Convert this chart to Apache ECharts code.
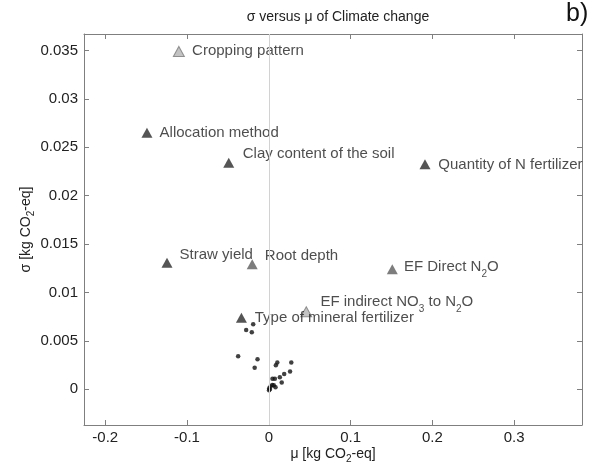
<!DOCTYPE html>
<html>
<head>
<meta charset="utf-8">
<script src="https://cdn.jsdelivr.net/npm/echarts@6/dist/echarts.min.js"></script>
<style>
  html, body { margin: 0; padding: 0; background: #fff; }
  #chart { width: 605px; height: 472px; }
</style>
</head>
<body>
<div id="chart"></div>
<script>
// ---- data ----
const factorNames = [
  'Cropping pattern',
  'Allocation method',
  'Clay content of the soil',
  'Quantity of N fertilizer',
  'Straw yield',
  'Root depth',
  'EF Direct N{s|2}O',
  'EF indirect NO{s|3} to N{s|2}O',
  'Type of mineral fertilizer'
];
const factorMu    = [-0.110, -0.149, -0.049, 0.191, -0.1245, -0.0203, 0.151, 0.0458, -0.0335];
const factorSigma = [0.0349, 0.0265, 0.0234, 0.02324, 0.01306, 0.0129, 0.0124, 0.0080, 0.00739];
const factorGroup = [2, 0, 0, 0, 0, 1, 1, 2, 0];

const dotMu = [-0.0191, -0.0277, -0.0208, -0.0375, -0.0138, -0.0173, 0.0104, 0.0086, 0.0275,
               0.0260, 0.0188, 0.0135, 0.0158, 0.0045, 0.0074, 0.0012, 0.0021, 0.0042,
               0.0061, 0.0005, 0.0082, 0.0003];
const dotSigma = [0.00671, 0.00612, 0.00588, 0.00340, 0.00309, 0.00222, 0.00276, 0.00248, 0.00276,
                  0.00183, 0.00156, 0.00124, 0.00068, 0.00109, 0.00109, 0.0000, 0.00027, 0.00044,
                  0.00041, 0.0001, 0.0002, -0.0001];

const xTickStep = 0.1;
const yTickStep = 0.005;

// ---- styles / layout ----
const groupStyles = [
  { color: '#2a2a2a', borderColor: '#2a2a2a', borderWidth: 0 },
  { color: '#5c5c5c', borderColor: '#5c5c5c', borderWidth: 0 },
  { color: '#b4b4b4', borderColor: '#7a7a7a', borderWidth: 1 }
];
const labelOffsets = [
  [7.2, -0.5], [7.1, 0], [8.5, -9], [7.8, 1], [7.1, -7.7],
  [7.1, -8.3], [6.1, -2.3], [8.1, -10], [7.8, 0.6]
];
const FONT = '"Liberation Sans", Arial, Helvetica, sans-serif';
const TXT = '#222';
const AX = '#7f7f7f';
const X_MIN = -0.226, X_MAX = 0.383;
const Y_MIN = -0.0037, Y_MAX = 0.0367;

const chart = echarts.init(document.getElementById('chart'));

const factorData = factorNames.map((n, i) => ({
  name: n,
  value: [factorMu[i], factorSigma[i]],
  itemStyle: groupStyles[factorGroup[i]],
  label: { offset: labelOffsets[i] }
}));
const dotData = dotMu.map((m, i) => [m, dotSigma[i]]);

function baseAxis(extra) {
  return Object.assign({
    type: 'value',
    splitLine: { show: false },
    axisLine: { show: true, onZero: false, lineStyle: { color: AX, width: 1 } },
    axisTick: { show: true, inside: true, length: 5, lineStyle: { color: AX, width: 1 } }
  }, extra);
}

const subRich = {
  s: { fontSize: 10, lineHeight: 10, padding: [11, 0, 0, 0], fontFamily: FONT, color: TXT }
};

const option = {
  animation: false,
  backgroundColor: '#fff',
  textStyle: { fontFamily: FONT },
  title: {
    text: 'σ versus μ of Climate change',
    left: 333,
    textAlign: 'center',
    top: 5,
    textStyle: { fontFamily: FONT, fontSize: 14, fontWeight: 'normal', color: TXT }
  },
  graphic: [{
    type: 'text',
    left: 566,
    top: 2,
    style: { text: 'b)', fontFamily: FONT, fontSize: 25, fill: '#111' }
  }],
  grid: { left: 84, right: 23, top: 34, bottom: 47, containLabel: false },
  xAxis: [
    baseAxis({
      position: 'bottom', min: X_MIN, max: X_MAX,
      minInterval: xTickStep, maxInterval: xTickStep,
      axisLabel: { showMinLabel: false, showMaxLabel: false, fontSize: 15, color: TXT, margin: 5, fontFamily: FONT },
      name: 'μ [kg CO{s|2}-eq]',
      nameLocation: 'middle',
      nameGap: 21,
      nameMoveOverlap: false,
      nameTextStyle: { fontSize: 14, color: TXT, fontFamily: FONT, lineHeight: 16, rich: subRich }
    }),
    baseAxis({
      position: 'top', min: X_MIN, max: X_MAX,
      minInterval: xTickStep, maxInterval: xTickStep,
      axisLabel: { show: false }
    })
  ],
  yAxis: [
    baseAxis({
      position: 'left', min: Y_MIN, max: Y_MAX,
      minInterval: yTickStep, maxInterval: yTickStep,
      axisLabel: { showMinLabel: false, showMaxLabel: false, fontSize: 15, color: TXT, margin: 6, fontFamily: FONT },
      name: 'σ [kg CO{s|2}-eq]',
      nameLocation: 'middle',
      nameRotate: 90,
      nameGap: 50,
      nameMoveOverlap: false,
      nameTextStyle: { fontSize: 14, color: TXT, fontFamily: FONT, lineHeight: 16, rich: subRich }
    }),
    baseAxis({
      position: 'right', min: Y_MIN, max: Y_MAX,
      minInterval: yTickStep, maxInterval: yTickStep,
      axisLabel: { show: false }
    })
  ],
  series: [
    {
      type: 'line',
      data: [],
      z: 1,
      silent: true,
      markLine: {
        silent: true,
        symbol: 'none',
        label: { show: false },
        lineStyle: { color: '#d2d2d2', type: 'solid', width: 1 },
        data: [{ xAxis: 0 }]
      }
    },
    {
      type: 'scatter',
      name: 'other',
      symbol: 'circle',
      symbolSize: 4.5,
      itemStyle: { color: '#111' },
      data: dotData,
      z: 3
    },
    {
      type: 'scatter',
      name: 'factors',
      symbol: 'triangle',
      symbolSize: [11, 10],
      data: factorData,
      z: 4,
      label: {
        show: true,
        position: 'right',
        distance: 0,
        formatter: p => p.name,
        fontFamily: FONT,
        fontSize: 15,
        lineHeight: 18,
        color: TXT,
        rich: {
          s: { fontSize: 10, lineHeight: 10, padding: [14, 0, 0, 0], fontFamily: FONT, color: TXT }
        }
      }
    }
  ]
};
chart.setOption(option);
</script>
</body>
</html>
